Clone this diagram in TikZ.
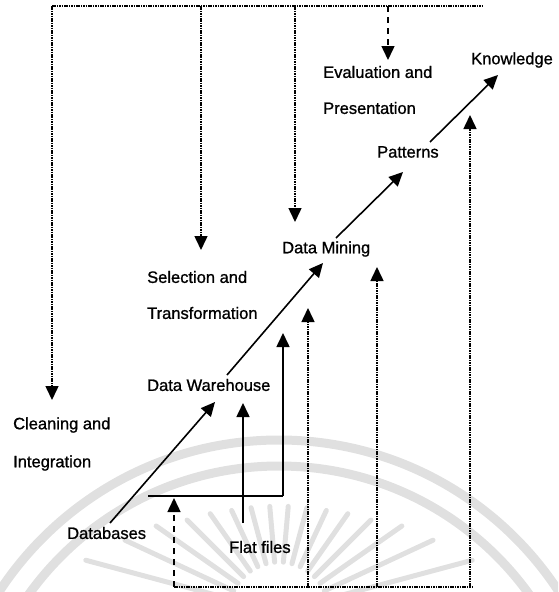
\documentclass[tikz,border=0pt]{standalone}
\usepackage{fontspec}
\setmainfont[FakeBold=1.2,BoldFont={Liberation Sans}]{Liberation Sans}
\newfontfamily\lblfont[FakeBold=1.0]{Liberation Sans}
\usetikzlibrary{arrows.meta}
\begin{document}
\begin{tikzpicture}[x=1pt,y=-1pt,
  lbl/.style={anchor=west,inner sep=0pt,font=\lblfont\fontsize{16.5}{18}\selectfont},
  solidarrow/.style={line width=1.6pt,-{Triangle[length=14pt,width=13pt]}},
  solidline/.style={line width=1.8pt},
  fbline/.style={line width=1.5pt,dash pattern=on 1.6pt off 0.8pt},
  fbarrow/.style={line width=1.5pt,dash pattern=on 1.6pt off 0.8pt,-{Triangle[length=14pt,width=13pt]}},
  dasharrow/.style={line width=1.5pt,dash pattern=on 6pt off 5pt,-{Triangle[length=14pt,width=13pt]}},
  wm/.style={black!12,line width=9pt,line cap=round},
  ray/.style={black!12,line width=5pt,line cap=round}]
\useasboundingbox (0,0) rectangle (558,592);
% faint watermark
\begin{scope}
\clip (0,0) rectangle (558,592);
\draw[wm] (279,774) circle[radius=334];
\draw[wm] (279,774) circle[radius=308];
\foreach \a/\r in {15/200,25/170,35/150,45/130,55/120,65/112,75/108,85/106,95/106,105/108,115/112,125/120,135/130,145/150,155/170,165/200}{
  \draw[ray] ({279+50*cos(\a)},{612-50*sin(\a)}) -- ({279+\r*cos(\a)},{612-\r*sin(\a)});
}
\end{scope}
% labels
\node[lbl] (know)  at (471,60)  {Knowledge};
\node[lbl] (eval)  at (323,72)  {Evaluation and};
\node[lbl] (pres)  at (323,108) {Presentation};
\node[lbl] (patt)  at (377,152) {Patterns};
\node[lbl] (dm)    at (282,249) {Data Mining};
\node[lbl] (sel)   at (147,277) {Selection and};
\node[lbl] (trans) at (147,313) {Transformation};
\node[lbl] (dw)    at (147,385) {Data Warehouse};
\node[lbl] (clean) at (13,425)  {Cleaning and};
\node[lbl] (integ) at (13,463)  {Integration};
\node[lbl] (db)    at (67,533)  {Databases};
\node[lbl] (flat)  at (229,547) {Flat files};
% coordinates
\coordinate (dbS) at (110,523); \coordinate (dbE) at (215,402);
\coordinate (dwS) at (227,375); \coordinate (dwE) at (323,263);
\coordinate (dmS) at (336,238); \coordinate (dmE) at (403,172);
\coordinate (ptS) at (430,142); \coordinate (ptE) at (498,75);
\coordinate (ffS) at (243,523); \coordinate (ffE) at (243,403);
\coordinate (hL) at (148,496); \coordinate (hR) at (283,496); \coordinate (hE) at (283,333);
\coordinate (tl) at (52,6); \coordinate (tr) at (483,6);
\coordinate (cE) at (52,400);
\coordinate (s1) at (201,6); \coordinate (s1E) at (201,250);
\coordinate (s2) at (295,6); \coordinate (s2E) at (295,222);
\coordinate (s3) at (388,6); \coordinate (s3E) at (388,60);
\coordinate (bl) at (174,587); \coordinate (br) at (473,587); \coordinate (blE) at (174,498);
\coordinate (b1) at (308,587); \coordinate (b1E) at (308,308);
\coordinate (b2) at (377,587); \coordinate (b2E) at (377,267);
\coordinate (b3) at (470,587); \coordinate (b3E) at (470,115);
% main flow
\draw[solidarrow] (dbS) -- (dbE);
\draw[solidarrow] (dwS) -- (dwE);
\draw[solidarrow] (dmS) -- (dmE);
\draw[solidarrow] (ptS) -- (ptE);
\draw[solidarrow] (ffS) -- (ffE);
\draw[solidline] (hL) -- (hR);
\draw[solidarrow] (hR) -- (hE);
% feedback paths
\draw[fbline] (tl) -- (tr);
\draw[fbarrow] (tl) -- (cE);
\draw[fbarrow] (s1) -- (s1E);
\draw[fbarrow] (s2) -- (s2E);
\draw[dasharrow] (s3) -- (s3E);
\draw[fbline] (bl) -- (br);
\draw[dasharrow] (bl) -- (blE);
\draw[fbarrow] (b1) -- (b1E);
\draw[fbarrow] (b2) -- (b2E);
\draw[fbarrow] (b3) -- (b3E);
\end{tikzpicture}
\end{document}
